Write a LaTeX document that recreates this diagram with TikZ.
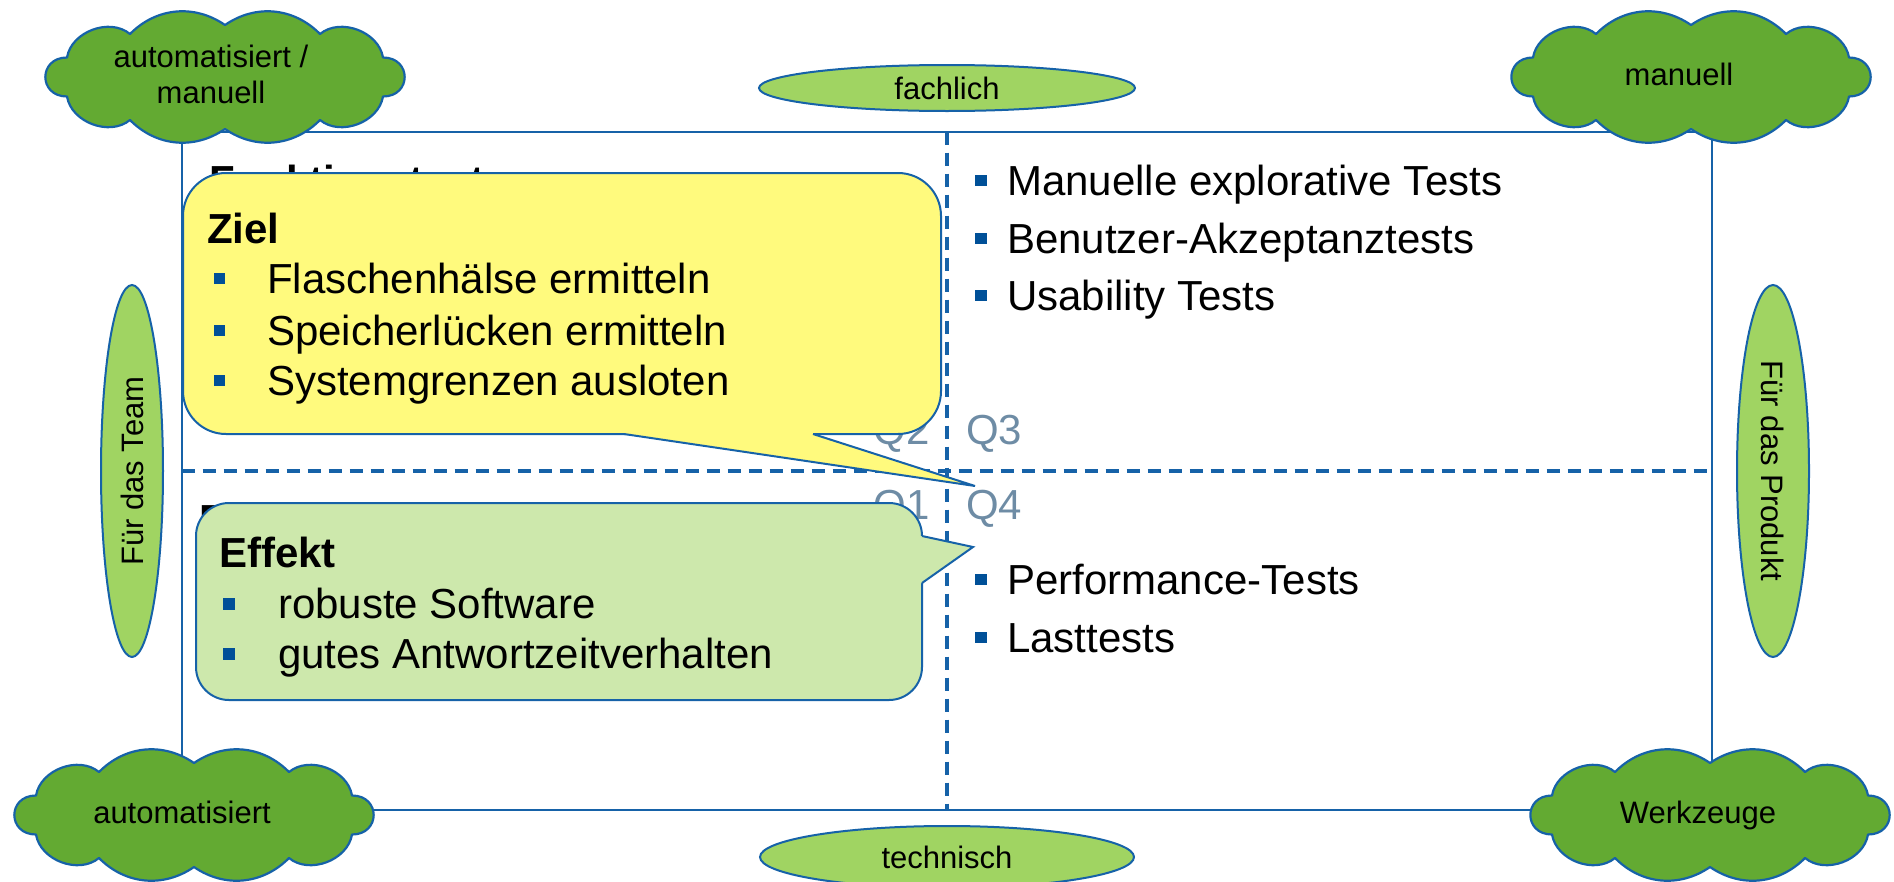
\documentclass[tikz,border=0pt]{standalone}
\usepackage{fontspec}
\setmainfont{Liberation Sans}
\usetikzlibrary{shapes.geometric}

\definecolor{lineblue}{RGB}{22,98,168}
\definecolor{bulletblue}{RGB}{0,80,152}
\definecolor{cloudgreen}{RGB}{99,170,50}
\definecolor{lightgreen}{RGB}{160,212,98}
\definecolor{noteyellow}{RGB}{255,250,125}
\definecolor{notegreen}{RGB}{205,232,172}
\definecolor{qgray}{RGB}{110,140,165}

\tikzset{
  frameline/.style={draw=lineblue, line width=2},
  divider/.style={draw=lineblue, line width=4, dash pattern=on 13 off 8},
  cloudline/.style={draw=lineblue, line width=2.2, fill=cloudgreen, line join=round},
  puffcloud/.pic={
    \path[cloudline] (0,-52) to[bend left=40] (95,-43) to[bend left=60] (158,-19.5)
      to[bend left=90, looseness=1.9] (158,19.5) to[bend left=60] (95,43)
      to[bend left=40] (0,52) to[bend left=40] (-95,43) to[bend left=60] (-158,19.5)
      to[bend left=90, looseness=1.9] (-158,-19.5) to[bend left=60] (-95,-43)
      to[bend left=40] (0,-52) -- cycle;
  },
  axislabel/.style={ellipse, draw=lineblue, line width=2, fill=lightgreen, inner sep=0,
    font=\fontsize{31}{37}\selectfont},
  smalltext/.style={font=\fontsize{31}{36}\selectfont, align=center, inner sep=0},
  itemtext/.style={anchor=base west, inner sep=0, font=\fontsize{42}{50}\selectfont},
  headtext/.style={anchor=base west, inner sep=0, font=\fontsize{42}{50}\selectfont\bfseries},
  bulletsq/.style={fill=bulletblue, minimum size=11.5, inner sep=0},
  quadlabel/.style={inner sep=0, text=qgray, font=\fontsize{42}{50}\selectfont},
  callbox/.style={draw=lineblue, line width=2, rounded corners=#1, inner sep=0},
  tailline/.style={draw=lineblue, line width=2, line join=miter},
}

\begin{document}
\begin{tikzpicture}[x=1pt, y=-1pt]
\useasboundingbox (0,0) rectangle (1894,881);

% quadrant frame and axes
\coordinate (tl) at (181.5,131.5);
\coordinate (br) at (1711.5,809.5);
\coordinate (vtop) at (946.7,131.5);
\coordinate (vbot) at (946.7,809.5);
\coordinate (hleft) at (181.5,471);
\coordinate (hright) at (1711.5,471);
\draw[frameline] (tl) rectangle (br);
\draw[divider] (vtop) -- (vbot);
\draw[divider] (hleft) -- (hright);

% corner clouds
\pic (ctl) at (225,77) {puffcloud};
\node[smalltext] (ctltext) at (211,74) {automatisiert /\\manuell};
\pic (ctr) at (1691,77) {puffcloud};
\node[smalltext] (ctrtext) at (1679,74) {manuell};
\pic (cbl) at (194,815) {puffcloud};
\node[smalltext] (cbltext) at (182,812) {automatisiert};
\pic (cbr) at (1710,815) {puffcloud};
\node[smalltext] (cbrtext) at (1698,815) {Werkzeuge};

% axis labels
\node[axislabel, minimum width=376, minimum height=46] (fach) at (947,88) {fachlich};
\node[axislabel, minimum width=374, minimum height=62] (tech) at (947,857) {technisch};
\node[axislabel, minimum width=62, minimum height=372] (team) at (132,471) {};
\node[smalltext, rotate=90] (teamtext) at (team.center) {Für das Team};
\node[axislabel, minimum width=72, minimum height=372] (prod) at (1773,471) {};
\node[smalltext, rotate=-90] (prodtext) at (prod.center) {Für das Produkt};

% quadrant numbers
\node[quadlabel, anchor=base east] (q2) at (930,444) {Q2};
\node[quadlabel, anchor=base west] (q3) at (966,444) {Q3};
\node[quadlabel, anchor=base east] (q1) at (930,519) {Q1};
\node[quadlabel, anchor=base west] (q4) at (966,519) {Q4};

% quadrant headings
\node[headtext] (q2head) at (209,195) {Funktionstests};
\node[headtext] (q1head) at (199,534) {E};

% Q3 items
\node[bulletsq] (b31) at (981,180.5) {};
\node[itemtext] (t31) at (1007,195) {Manuelle explorative Tests};
\node[bulletsq] (b32) at (981,238.5) {};
\node[itemtext] (t32) at (1007,253) {Benutzer-Akzeptanztests};
\node[bulletsq] (b33) at (981,295.5) {};
\node[itemtext] (t33) at (1007,310) {Usability Tests};

% Q4 items
\node[bulletsq] (b41) at (981,579.5) {};
\node[itemtext] (t41) at (1007,594) {Performance-Tests};
\node[bulletsq] (b42) at (981,637.5) {};
\node[itemtext] (t42) at (1007,652) {Lasttests};

% goal callout
\node[callbox=43, fill=noteyellow, minimum width=758, minimum height=261] (ziel) at (562,303.5) {};
\coordinate (zA) at (624,434);
\coordinate (zTip) at (975,486);
\coordinate (zB) at (813,434);
\fill[noteyellow] (624,431) -- (zA) -- (zTip) -- (zB) -- (813,431) -- cycle;
\draw[tailline] (zA) -- (zTip) -- (zB);
\node[headtext] (zielhead) at (207,243) {Ziel};
\node[bulletsq] (zb1) at (219.5,278.5) {};
\node[itemtext] (z1) at (267,293) {Flaschenhälse ermitteln};
\node[bulletsq] (zb2) at (219.5,330.5) {};
\node[itemtext] (z2) at (267,345) {Speicherlücken ermitteln};
\node[bulletsq] (zb3) at (219.5,380.5) {};
\node[itemtext] (z3) at (267,395) {Systemgrenzen ausloten};

% effect callout
\node[callbox=33, fill=notegreen, minimum width=726, minimum height=197] (effekt) at (559,601.5) {};
\coordinate (eA) at (922,536);
\coordinate (eTip) at (973,547);
\coordinate (eB) at (922,583);
\fill[notegreen] (919,536) -- (eA) -- (eTip) -- (eB) -- (919,583) -- cycle;
\draw[tailline] (eA) -- (eTip) -- (eB);
\node[headtext] (effhead) at (219,567) {Effekt};
\node[bulletsq] (eb1) at (229,604) {};
\node[itemtext] (e1) at (278,618) {robuste Software};
\node[bulletsq] (eb2) at (229,654) {};
\node[itemtext] (e2) at (278,668) {gutes Antwortzeitverhalten};
\end{tikzpicture}
\end{document}
